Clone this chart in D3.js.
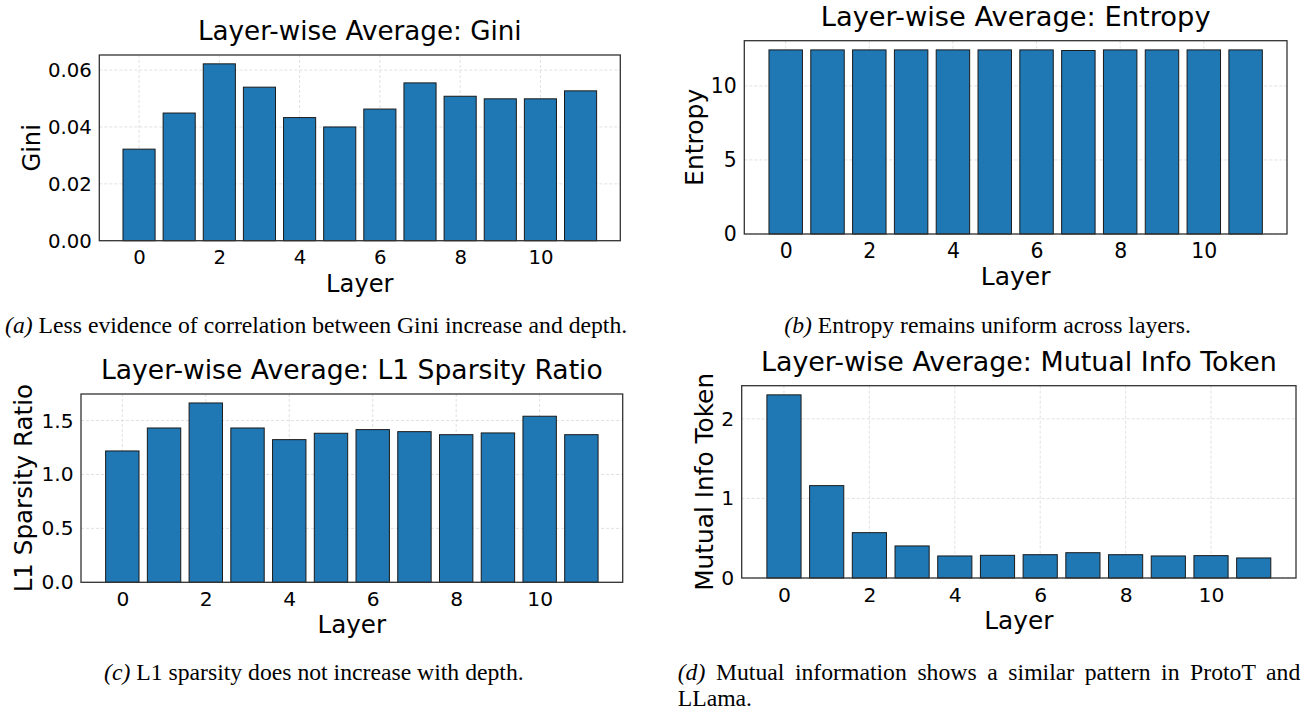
<!DOCTYPE html>
<html>
<head>
<meta charset="utf-8">
<script src="https://cdn.jsdelivr.net/npm/d3@7"></script>
<style>
  body { margin: 0; background: #fff; }
  svg { display: block; }
</style>
</head>
<body>
<svg id="fig" width="1309" height="712"></svg>
<script>
// data
const layers = [0, 1, 2, 3, 4, 5, 6, 7, 8, 9, 10, 11];
const layerTicks = [0, 2, 4, 6, 8, 10];

const giniValues = [0.0322, 0.0449, 0.0622, 0.0540, 0.0433, 0.0400, 0.0463, 0.0555, 0.0508, 0.0499, 0.0499, 0.0527];
const giniTicks = [0, 0.02, 0.04, 0.06];

const entropyValues = [12.43, 12.43, 12.43, 12.43, 12.43, 12.43, 12.43, 12.39, 12.43, 12.43, 12.43, 12.43];
const entropyTicks = [0, 5, 10];

const l1Values = [1.218, 1.431, 1.663, 1.431, 1.323, 1.382, 1.416, 1.397, 1.369, 1.385, 1.540, 1.369];
const l1Ticks = [0, 0.5, 1.0, 1.5];

const mutualInfoValues = [2.302, 1.161, 0.570, 0.403, 0.277, 0.285, 0.293, 0.318, 0.293, 0.277, 0.281, 0.252];
const mutualInfoTicks = [0, 1, 2];

// panel setup: box in page pixels, font sizes, label offsets
const panels = [
  {
    title: "Layer-wise Average: Gini", yLabel: "Gini", values: giniValues, ticks: giniTicks, fmt: ".2f",
    box: { left: 99.3, top: 55, right: 620.3, bottom: 240.7 },
    fs: { title: 26.2, label: 24.2, tick: 19.7 }, yLabelX: 39.5
  },
  {
    title: "Layer-wise Average: Entropy", yLabel: "Entropy", values: entropyValues, ticks: entropyTicks, fmt: "d",
    box: { left: 744.3, top: 40.7, right: 1287, bottom: 234 },
    fs: { title: 27.3, label: 25, tick: 20.4 }, yLabelX: 702.5
  },
  {
    title: "Layer-wise Average: L1 Sparsity Ratio", yLabel: "L1 Sparsity Ratio", values: l1Values, ticks: l1Ticks, fmt: ".1f",
    box: { left: 81, top: 394, right: 622.7, bottom: 582.3 },
    fs: { title: 26.6, label: 24.6, tick: 20.2 }, yLabelX: 31.5
  },
  {
    title: "Layer-wise Average: Mutual Info Token", yLabel: "Mutual Info Token", values: mutualInfoValues, ticks: mutualInfoTicks, fmt: "d",
    box: { left: 741.7, top: 385.7, right: 1296, bottom: 578 },
    fs: { title: 26.9, label: 24.8, tick: 20.3 }, yLabelX: 712.5
  }
];

const captions = [
  { tag: "(a)", text: "Less evidence of correlation between Gini increase and depth.", x: 5, y: 333.3 },
  { tag: "(b)", text: "Entropy remains uniform across layers.", x: 784.3, y: 333.3 },
  { tag: "(c)", text: "L1 sparsity does not increase with depth.", x: 104, y: 680 },
  { tag: "(d)", text: "Mutual information shows a similar pattern in ProtoT and", x: 677.7, y: 680, justifyTo: 1300.3 },
  { tag: "", text: "LLama.", x: 677.7, y: 706.3 }
];

const svg = d3.select("#fig");
const sans = "'DejaVu Sans', sans-serif";
const serif = "'Liberation Serif', 'Times New Roman', serif";
const barColor = "#1f77b4";

function drawPanel(p) {
  const g = svg.append("g");
  const b = p.box;

  // matplotlib style x limits: bar extent plus 5% margin
  const lo = layers[0] - 0.4, hi = layers[layers.length - 1] + 0.4;
  const m = (hi - lo) * 0.05;
  const x = d3.scaleLinear().domain([lo - m, hi + m]).range([b.left, b.right]);
  const y = d3.scaleLinear().domain([0, d3.max(p.values) * 1.05]).range([b.bottom, b.top]);

  // grid
  g.append("g").selectAll("line")
    .data(layerTicks)
    .join("line")
      .attr("x1", d => x(d)).attr("x2", d => x(d))
      .attr("y1", b.top).attr("y2", b.bottom)
      .attr("stroke", "#d9d9d9").attr("stroke-width", 0.8)
      .attr("stroke-dasharray", "3,2");
  g.append("g").selectAll("line")
    .data(p.ticks)
    .join("line")
      .attr("x1", b.left).attr("x2", b.right)
      .attr("y1", d => y(d)).attr("y2", d => y(d))
      .attr("stroke", "#d9d9d9").attr("stroke-width", 0.8)
      .attr("stroke-dasharray", "3,2");

  // bars
  const bw = x(0.8) - x(0);
  g.append("g").selectAll("rect")
    .data(layers)
    .join("rect")
      .attr("x", d => x(d) - bw / 2)
      .attr("width", bw)
      .attr("y", (d, i) => y(p.values[i]))
      .attr("height", (d, i) => y(0) - y(p.values[i]))
      .attr("fill", barColor)
      .attr("stroke", "#1a1a1a")
      .attr("stroke-width", 1);

  // frame
  g.append("rect")
    .attr("x", b.left).attr("y", b.top)
    .attr("width", b.right - b.left).attr("height", b.bottom - b.top)
    .attr("fill", "none").attr("stroke", "#333").attr("stroke-width", 1.3);

  // axes
  const xAxis = d3.axisBottom(x).tickValues(layerTicks).tickSize(0)
    .tickPadding(23.6 - 0.71 * p.fs.tick).tickFormat(d3.format("d"));
  const gx = g.append("g").attr("transform", `translate(0,${b.bottom})`).call(xAxis);

  const yAxis = d3.axisLeft(y).tickValues(p.ticks).tickSize(0)
    .tickPadding(7.5).tickFormat(d3.format(p.fmt));
  const gy = g.append("g").attr("transform", `translate(${b.left},0)`).call(yAxis);

  [gx, gy].forEach(a => {
    a.select(".domain").remove();
    a.selectAll("text")
      .attr("font-family", sans)
      .attr("font-size", p.fs.tick)
      .attr("fill", "#000");
  });

  const cx = (b.left + b.right) / 2;

  g.append("text")
    .attr("x", cx).attr("y", b.top - 15)
    .attr("text-anchor", "middle")
    .attr("font-family", sans).attr("font-size", p.fs.title)
    .text(p.title);

  g.append("text")
    .attr("x", cx).attr("y", b.bottom + 51)
    .attr("text-anchor", "middle")
    .attr("font-family", sans).attr("font-size", p.fs.label)
    .text("Layer");

  g.append("text")
    .attr("transform", `translate(${p.yLabelX},${(b.top + b.bottom) / 2}) rotate(-90)`)
    .attr("text-anchor", "middle")
    .attr("font-family", sans).attr("font-size", p.fs.label)
    .text(p.yLabel);
}

panels.forEach(drawPanel);

// captions: italic tag, then the sentence; line (d) is justified
const capSize = 23.7;
const spaceW = capSize * 0.25;
captions.forEach(c => {
  let x0 = c.x;
  if (c.tag) {
    const tag = svg.append("text")
      .attr("x", c.x).attr("y", c.y)
      .attr("font-family", serif).attr("font-size", capSize)
      .attr("font-style", "italic")
      .text(c.tag);
    x0 = c.x + tag.node().getComputedTextLength();
  }
  const t = svg.append("text")
    .attr("y", c.y)
    .attr("font-family", serif).attr("font-size", capSize)
    .text(c.text);
  let gap = c.tag ? spaceW : 0;
  if (c.justifyTo) {
    const natural = t.node().getComputedTextLength();
    const spaces = c.text.split(" ").length - 1;
    const extra = (c.justifyTo - x0 - spaceW - natural) / (spaces + 1);
    gap = spaceW + extra;
    t.attr("word-spacing", extra);
  }
  t.attr("x", x0 + gap);
});
</script>
</body>
</html>
